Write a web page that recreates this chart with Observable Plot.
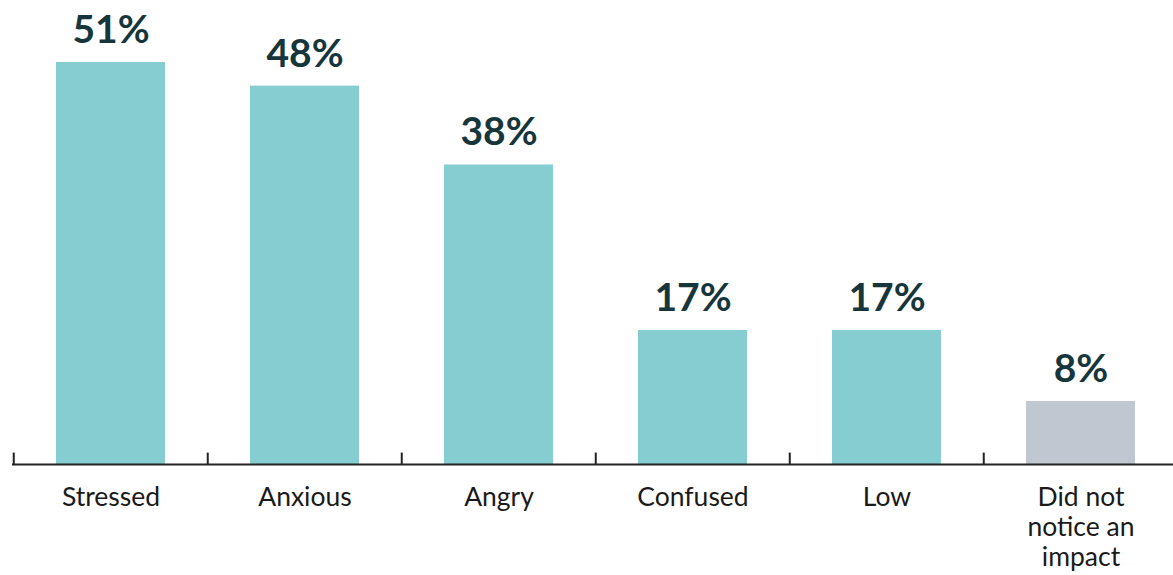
<!DOCTYPE html>
<html>
<head>
<meta charset="utf-8">
<script src="https://cdn.jsdelivr.net/npm/d3@7"></script>
<script src="https://cdn.jsdelivr.net/npm/@observablehq/plot@0.6"></script>
<style>
  html, body { margin: 0; padding: 0; background: #fff; }
  svg { display: block; }
</style>
</head>
<body>
<div id="chart"></div>
<script>
const categories = ["Stressed", "Anxious", "Angry", "Confused", "Low", "Did not notice an impact"];
const tickLabels = ["Stressed", "Anxious", "Angry", "Confused", "Low", "Did not\nnotice an\nimpact"];
const values = [51, 48, 38, 17, 17, 8];
const colors = ["#86cdd2", "#86cdd2", "#86cdd2", "#86cdd2", "#86cdd2", "#c0c7d0"];

const data = categories.map((c, i) => ({category: c, value: values[i], color: colors[i], label: tickLabels[i]}));
const labelOf = new Map(data.map(d => [d.category, d.label]));

const chart = Plot.plot({
  width: 1173,
  height: 575,
  marginTop: 62,
  marginBottom: 111,
  marginLeft: 12,
  marginRight: 0,
  style: {fontFamily: "Lato, sans-serif", background: "#fff"},
  x: {domain: categories, range: [12, 1179], paddingInner: 0.44, paddingOuter: 0.22, axis: null},
  y: {domain: [0, 51], axis: null},
  marks: [
    Plot.barY(data, {x: "category", y: "value", fill: "color"}),
    Plot.ruleY([0], {stroke: "#222", strokeWidth: 2}),
    Plot.ruleX(data, {x: "category", y1: 0, y2: 1.45, dx: -97.25, stroke: "#222", strokeWidth: 2}),
    Plot.text(data, {x: "category", y: "value", text: d => d.value + "%", dy: -32, fill: "#17363b", fontSize: 39, fontWeight: "bold"}),
    Plot.axisX({label: null, tickSize: 0, tickPadding: 20, fontSize: 26.5, lineHeight: 1.13, fill: "#1a1a1a", tickFormat: c => labelOf.get(c)})
  ]
});
document.getElementById("chart").appendChild(chart);
</script>
</body>
</html>
